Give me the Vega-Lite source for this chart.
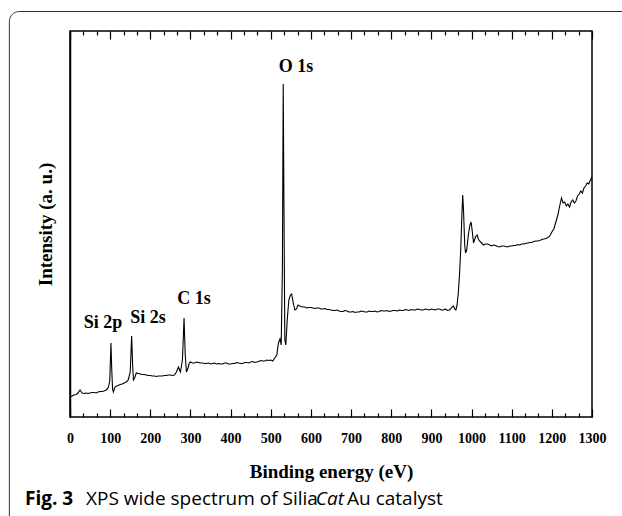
{
  "$schema": "https://vega.github.io/schema/vega-lite/v6.json",
  "width": 522,
  "height": 386,
  "autosize": {"type": "none"},
  "padding": {"left": 70, "top": 31, "right": 30, "bottom": 99},
  "background": "white",
  "config": {"view": {"stroke": "black", "strokeWidth": 1.5}},
  "resolve": {"axis": {"x": "independent", "y": "independent"}},
  "datasets": {
    "spectrum": [
      {"energy":0,"intensity":20},{"energy":5,"intensity":21},{"energy":10,"intensity":22},{"energy":15,"intensity":22.5},{"energy":20,"intensity":24},{"energy":25,"intensity":27},{"energy":30,"intensity":24},{"energy":35,"intensity":23.5},{"energy":40,"intensity":24},{"energy":45,"intensity":23.5},{"energy":50,"intensity":24},{"energy":55,"intensity":24.5},{"energy":60,"intensity":24.5},{"energy":65,"intensity":24},{"energy":70,"intensity":25},{"energy":75,"intensity":25.5},{"energy":80,"intensity":25.5},{"energy":85,"intensity":26},{"energy":90,"intensity":27},{"energy":95,"intensity":29},{"energy":99,"intensity":36},{"energy":102,"intensity":74},{"energy":104,"intensity":47},{"energy":106,"intensity":28},{"energy":108,"intensity":25},{"energy":112,"intensity":30},{"energy":116,"intensity":31},{"energy":120,"intensity":31.5},{"energy":125,"intensity":32.5},{"energy":130,"intensity":33},{"energy":135,"intensity":34},{"energy":140,"intensity":35},{"energy":145,"intensity":37},{"energy":150,"intensity":45},{"energy":153.5,"intensity":81},{"energy":156,"intensity":52},{"energy":158,"intensity":37},{"energy":161,"intensity":39},{"energy":165,"intensity":44},{"energy":170,"intensity":43.5},{"energy":175,"intensity":43},{"energy":180,"intensity":42.5},{"energy":185,"intensity":42.5},{"energy":190,"intensity":42},{"energy":195,"intensity":41.5},{"energy":200,"intensity":41.5},{"energy":205,"intensity":41},{"energy":210,"intensity":41},{"energy":215,"intensity":40.5},{"energy":220,"intensity":41},{"energy":225,"intensity":41},{"energy":230,"intensity":41},{"energy":235,"intensity":41.5},{"energy":240,"intensity":41.5},{"energy":245,"intensity":42},{"energy":250,"intensity":42},{"energy":255,"intensity":41.5},{"energy":260,"intensity":42},{"energy":265,"intensity":45},{"energy":270,"intensity":50},{"energy":275,"intensity":45},{"energy":280,"intensity":57},{"energy":284,"intensity":99},{"energy":287,"intensity":62},{"energy":290,"intensity":45},{"energy":294,"intensity":49},{"energy":297,"intensity":54},{"energy":300,"intensity":55},{"energy":305,"intensity":54},{"energy":310,"intensity":54},{"energy":315,"intensity":55},{"energy":320,"intensity":54.5},{"energy":325,"intensity":54},{"energy":330,"intensity":54},{"energy":335,"intensity":53.5},{"energy":340,"intensity":53.5},{"energy":345,"intensity":54},{"energy":350,"intensity":53},{"energy":355,"intensity":53.5},{"energy":360,"intensity":54},{"energy":365,"intensity":53},{"energy":370,"intensity":53.5},{"energy":375,"intensity":53},{"energy":380,"intensity":53},{"energy":385,"intensity":54},{"energy":390,"intensity":54},{"energy":395,"intensity":53},{"energy":400,"intensity":53},{"energy":405,"intensity":53.5},{"energy":410,"intensity":53.5},{"energy":415,"intensity":54.5},{"energy":420,"intensity":54},{"energy":425,"intensity":53.5},{"energy":430,"intensity":53.5},{"energy":435,"intensity":54.5},{"energy":440,"intensity":54.5},{"energy":445,"intensity":54},{"energy":450,"intensity":55},{"energy":455,"intensity":55.5},{"energy":460,"intensity":54.5},{"energy":465,"intensity":55},{"energy":470,"intensity":55.5},{"energy":475,"intensity":56.5},{"energy":480,"intensity":56},{"energy":485,"intensity":56},{"energy":490,"intensity":57},{"energy":495,"intensity":56.5},{"energy":500,"intensity":57},{"energy":505,"intensity":56},{"energy":510,"intensity":59},{"energy":515,"intensity":62},{"energy":519,"intensity":74},{"energy":523,"intensity":78},{"energy":526,"intensity":72},{"energy":529,"intensity":150},{"energy":531,"intensity":333},{"energy":533,"intensity":200},{"energy":535,"intensity":77},{"energy":537.5,"intensity":72},{"energy":541,"intensity":97},{"energy":545,"intensity":117},{"energy":549,"intensity":122},{"energy":552,"intensity":123},{"energy":556,"intensity":114},{"energy":560,"intensity":107},{"energy":564,"intensity":108},{"energy":568,"intensity":112},{"energy":572,"intensity":111},{"energy":576,"intensity":110.5},{"energy":580,"intensity":110},{"energy":585,"intensity":110},{"energy":590,"intensity":109},{"energy":595,"intensity":109.5},{"energy":600,"intensity":109.5},{"energy":605,"intensity":109},{"energy":610,"intensity":108.5},{"energy":615,"intensity":109},{"energy":620,"intensity":109},{"energy":625,"intensity":108},{"energy":630,"intensity":108},{"energy":635,"intensity":108.5},{"energy":640,"intensity":107.5},{"energy":645,"intensity":107.5},{"energy":650,"intensity":107},{"energy":655,"intensity":106.5},{"energy":660,"intensity":106.5},{"energy":665,"intensity":107},{"energy":670,"intensity":106},{"energy":675,"intensity":105.5},{"energy":680,"intensity":105.5},{"energy":685,"intensity":106.5},{"energy":690,"intensity":106},{"energy":695,"intensity":105},{"energy":700,"intensity":105},{"energy":705,"intensity":105.5},{"energy":710,"intensity":104.5},{"energy":715,"intensity":105},{"energy":720,"intensity":105},{"energy":725,"intensity":106},{"energy":730,"intensity":105.5},{"energy":735,"intensity":105},{"energy":740,"intensity":105},{"energy":745,"intensity":106},{"energy":750,"intensity":105.5},{"energy":755,"intensity":105.5},{"energy":760,"intensity":106},{"energy":765,"intensity":105},{"energy":770,"intensity":105.5},{"energy":775,"intensity":106.5},{"energy":780,"intensity":106},{"energy":785,"intensity":106},{"energy":790,"intensity":106.5},{"energy":795,"intensity":105.5},{"energy":800,"intensity":106},{"energy":805,"intensity":106.5},{"energy":810,"intensity":106.5},{"energy":815,"intensity":106},{"energy":820,"intensity":107},{"energy":825,"intensity":106.5},{"energy":830,"intensity":106.5},{"energy":835,"intensity":107.5},{"energy":840,"intensity":107},{"energy":845,"intensity":106.5},{"energy":850,"intensity":107.5},{"energy":855,"intensity":107},{"energy":860,"intensity":107},{"energy":865,"intensity":108},{"energy":870,"intensity":107.5},{"energy":875,"intensity":107},{"energy":880,"intensity":107},{"energy":885,"intensity":108},{"energy":890,"intensity":107.5},{"energy":895,"intensity":107},{"energy":900,"intensity":108},{"energy":905,"intensity":107.5},{"energy":910,"intensity":107},{"energy":915,"intensity":108},{"energy":920,"intensity":108},{"energy":925,"intensity":107},{"energy":930,"intensity":107},{"energy":935,"intensity":108},{"energy":940,"intensity":106.5},{"energy":945,"intensity":107},{"energy":950,"intensity":109},{"energy":953,"intensity":110.5},{"energy":955,"intensity":111},{"energy":958,"intensity":108},{"energy":961,"intensity":107},{"energy":964,"intensity":112},{"energy":967,"intensity":124},{"energy":970,"intensity":142},{"energy":973,"intensity":167},{"energy":976,"intensity":202},{"energy":978,"intensity":222},{"energy":980,"intensity":207},{"energy":983,"intensity":172},{"energy":985,"intensity":164},{"energy":988,"intensity":167},{"energy":992,"intensity":182},{"energy":996,"intensity":192},{"energy":999,"intensity":195},{"energy":1002,"intensity":185},{"energy":1005,"intensity":174},{"energy":1008,"intensity":178},{"energy":1011,"intensity":181},{"energy":1014,"intensity":182},{"energy":1017,"intensity":178},{"energy":1020,"intensity":176},{"energy":1025,"intensity":174},{"energy":1030,"intensity":172},{"energy":1035,"intensity":173},{"energy":1040,"intensity":173},{"energy":1045,"intensity":172},{"energy":1050,"intensity":171},{"energy":1055,"intensity":172},{"energy":1060,"intensity":171.5},{"energy":1065,"intensity":170.5},{"energy":1070,"intensity":170},{"energy":1075,"intensity":171},{"energy":1080,"intensity":171},{"energy":1085,"intensity":170.5},{"energy":1090,"intensity":170},{"energy":1095,"intensity":171},{"energy":1100,"intensity":171},{"energy":1105,"intensity":171.5},{"energy":1110,"intensity":171.5},{"energy":1115,"intensity":172.5},{"energy":1120,"intensity":172},{"energy":1125,"intensity":173},{"energy":1130,"intensity":173},{"energy":1135,"intensity":173.5},{"energy":1140,"intensity":174},{"energy":1145,"intensity":174.5},{"energy":1150,"intensity":174.5},{"energy":1155,"intensity":175.5},{"energy":1160,"intensity":176},{"energy":1165,"intensity":176},{"energy":1170,"intensity":176.5},{"energy":1175,"intensity":177.5},{"energy":1180,"intensity":178},{"energy":1185,"intensity":178.5},{"energy":1190,"intensity":179.5},{"energy":1195,"intensity":181},{"energy":1200,"intensity":185},{"energy":1205,"intensity":188},{"energy":1210,"intensity":195},{"energy":1215,"intensity":202},{"energy":1220,"intensity":212},{"energy":1224,"intensity":219},{"energy":1228,"intensity":214},{"energy":1232,"intensity":215},{"energy":1236,"intensity":211},{"energy":1240,"intensity":213},{"energy":1244,"intensity":210},{"energy":1248,"intensity":215},{"energy":1252,"intensity":217},{"energy":1256,"intensity":214},{"energy":1260,"intensity":216},{"energy":1264,"intensity":221},{"energy":1268,"intensity":223},{"energy":1272,"intensity":226},{"energy":1276,"intensity":224},{"energy":1280,"intensity":229},{"energy":1284,"intensity":231},{"energy":1288,"intensity":234},{"energy":1292,"intensity":233},{"energy":1296,"intensity":237},{"energy":1300,"intensity":240}
    ],
    "peaks": [
      {"label": "O 1s", "energy": 563, "intensity": 350},
      {"label": "Si 2p", "energy": 82, "intensity": 94},
      {"label": "Si 2s", "energy": 194, "intensity": 99},
      {"label": "C 1s", "energy": 309, "intensity": 118}
    ],
    "caption": [
      {"part": "Fig. 3", "energy": -112, "intensity": -82},
      {"part": "XPS wide spectrum of Silia", "energy": 40, "intensity": -82},
      {"part": "Cat", "energy": 612, "intensity": -82},
      {"part": "Au catalyst", "energy": 690, "intensity": -82}
    ]
  },
  "layer": [
    {
      "data": {"values": [{}]},
      "mark": {"type": "rect", "fill": null, "stroke": "#333333", "strokeWidth": 1, "cornerRadius": 10, "clip": false},
      "encoding": {
        "x": {"datum": -151, "type": "quantitative", "scale": {"domain": [0, 1300], "nice": false, "zero": false}, "axis": null},
        "x2": {"datum": 1600},
        "y": {"datum": 405.5, "type": "quantitative", "scale": {"domain": [0, 386], "nice": false, "zero": false}, "axis": null},
        "y2": {"datum": -130}
      }
    },
    {
      "data": {"name": "spectrum"},
      "mark": {"type": "line", "color": "black", "strokeWidth": 1.1, "clip": true},
      "encoding": {
        "x": {
          "field": "energy", "type": "quantitative",
          "scale": {"domain": [0, 1300], "nice": false, "zero": false},
          "axis": {
            "orient": "bottom",
            "title": "Binding energy (eV)",
            "values": [0,33.33,66.67,100,133.33,166.67,200,233.33,266.67,300,333.33,366.67,400,433.33,466.67,500,533.33,566.67,600,633.33,666.67,700,733.33,766.67,800,833.33,866.67,900,933.33,966.67,1000,1033.33,1066.67,1100,1133.33,1166.67,1200,1233.33,1266.67,1300],
            "labelExpr": "datum.value % 100 === 0 ? datum.label : ''",
            "format": "d",
            "domain": false,
            "grid": false,
            "tickColor": "black",
            "tickWidth": 1.2,
            "tickSize": {"condition": {"test": "datum.value % 100 === 0", "value": -8}, "value": -4},
            "labelPadding": 22,
            "labelFont": "Liberation Serif",
            "labelFontWeight": "bold",
            "labelFontSize": 14,
            "labelColor": "black",
            "labelOverlap": false,
            "labelFlush": false,
            "titleFont": "Liberation Serif",
            "titleFontWeight": "bold",
            "titleFontSize": 19,
            "titleColor": "black",
            "titleY": 54,
            "titleBaseline": "middle"
          }
        },
        "y": {
          "field": "intensity", "type": "quantitative",
          "scale": {"domain": [0, 386], "nice": false, "zero": false},
          "axis": {
            "orient": "left",
            "title": "Intensity (a. u.)",
            "labels": false, "ticks": false, "grid": false,
            "domain": true, "domainColor": "black", "domainWidth": 1.5,
            "titleFont": "Liberation Serif",
            "titleFontWeight": "bold",
            "titleFontSize": 19,
            "titleColor": "black",
            "titlePadding": 15
          }
        }
      }
    },
    {
      "data": {"name": "peaks"},
      "mark": {"type": "text", "font": "Liberation Serif", "fontWeight": "bold", "fontSize": 18, "color": "black", "align": "center", "baseline": "middle"},
      "encoding": {
        "x": {
          "field": "energy", "type": "quantitative",
          "scale": {"domain": [0, 1300], "nice": false, "zero": false},
          "axis": {
            "orient": "top",
            "title": null,
            "labels": false,
            "values": [0,33.33,66.67,100,133.33,166.67,200,233.33,266.67,300,333.33,366.67,400,433.33,466.67,500,533.33,566.67,600,633.33,666.67,700,733.33,766.67,800,833.33,866.67,900,933.33,966.67,1000,1033.33,1066.67,1100,1133.33,1166.67,1200,1233.33,1266.67,1300],
            "domain": false,
            "grid": false,
            "tickColor": "black",
            "tickWidth": 1.2,
            "tickSize": {"condition": {"test": "datum.value % 100 === 0", "value": -8}, "value": -4}
          }
        },
        "y": {"field": "intensity", "type": "quantitative", "scale": {"domain": [0, 386], "nice": false, "zero": false}, "axis": null},
        "text": {"field": "label"}
      }
    },
    {
      "data": {"name": "caption"},
      "transform": [{"filter": "datum.part === 'Fig. 3'"}],
      "mark": {"type": "text", "font": "Open Sans", "fontSize": 19, "fontWeight": "bold", "color": "black", "align": "left", "baseline": "middle", "clip": false},
      "encoding": {
        "x": {"field": "energy", "type": "quantitative", "scale": {"domain": [0, 1300], "nice": false, "zero": false}, "axis": null},
        "y": {"field": "intensity", "type": "quantitative", "scale": {"domain": [0, 386], "nice": false, "zero": false}, "axis": null},
        "text": {"field": "part"}
      }
    },
    {
      "data": {"name": "caption"},
      "transform": [{"filter": "datum.part === 'Cat'"}],
      "mark": {"type": "text", "font": "Open Sans", "fontSize": 19, "fontStyle": "italic", "color": "black", "align": "left", "baseline": "middle", "clip": false},
      "encoding": {
        "x": {"field": "energy", "type": "quantitative", "scale": {"domain": [0, 1300], "nice": false, "zero": false}, "axis": null},
        "y": {"field": "intensity", "type": "quantitative", "scale": {"domain": [0, 386], "nice": false, "zero": false}, "axis": null},
        "text": {"field": "part"}
      }
    },
    {
      "data": {"name": "caption"},
      "transform": [{"filter": "datum.part !== 'Cat' && datum.part !== 'Fig. 3'"}],
      "mark": {"type": "text", "font": "Open Sans", "fontSize": 19, "color": "black", "align": "left", "baseline": "middle", "clip": false},
      "encoding": {
        "x": {"field": "energy", "type": "quantitative", "scale": {"domain": [0, 1300], "nice": false, "zero": false}, "axis": null},
        "y": {"field": "intensity", "type": "quantitative", "scale": {"domain": [0, 386], "nice": false, "zero": false}, "axis": null},
        "text": {"field": "part"}
      }
    }
  ]
}
